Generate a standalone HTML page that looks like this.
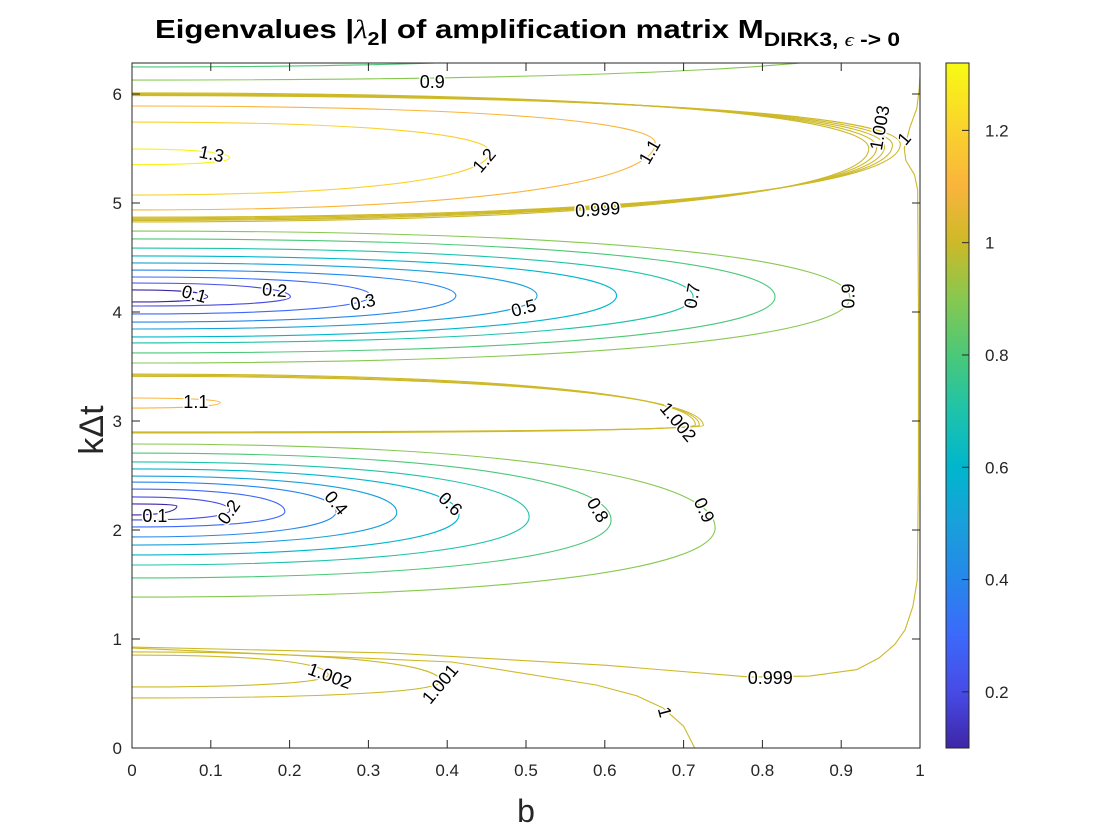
<!DOCTYPE html>
<html><head><meta charset="utf-8"><style>
body{margin:0;background:#fff;}
svg{display:block;font-family:"Liberation Sans",Arial,sans-serif;}
</style></head><body>
<svg id="chart" width="1120" height="840" viewBox="0 0 1120 840">
<defs>
<clipPath id="plotclip"><rect x="132" y="63" width="788" height="685"/></clipPath>
<linearGradient id="cbgrad" x1="0" y1="1" x2="0" y2="0">
<stop offset="0" stop-color="rgb(62,38,168)"/>
<stop offset="0.082" stop-color="rgb(71,75,230)"/>
<stop offset="0.164" stop-color="rgb(60,105,250)"/>
<stop offset="0.246" stop-color="rgb(38,135,235)"/>
<stop offset="0.328" stop-color="rgb(25,160,218)"/>
<stop offset="0.41" stop-color="rgb(0,182,205)"/>
<stop offset="0.492" stop-color="rgb(30,195,170)"/>
<stop offset="0.574" stop-color="rgb(75,200,120)"/>
<stop offset="0.656" stop-color="rgb(135,200,80)"/>
<stop offset="0.738" stop-color="rgb(205,185,40)"/>
<stop offset="0.82" stop-color="rgb(250,180,60)"/>
<stop offset="0.902" stop-color="rgb(250,210,45)"/>
<stop offset="1" stop-color="rgb(248,250,20)"/>
</linearGradient>
</defs>
<rect x="0" y="0" width="1120" height="840" fill="#fff"/>
<rect x="132" y="63" width="788" height="685" fill="#fff"/>
<g id="contours" clip-path="url(#plotclip)"></g>
<g id="labels"></g>
<rect x="132" y="63" width="788" height="685" fill="none" stroke="#262626" stroke-width="1"/>
<g id="axes"></g>
<text x="155" y="38" textLength="745" lengthAdjust="spacingAndGlyphs" font-size="26" font-weight="bold" fill="#000">Eigenvalues |<tspan font-family="'Liberation Serif',serif" font-style="italic" font-weight="normal">λ</tspan><tspan font-size="18" dy="7">2</tspan><tspan dy="-7">| of amplification matrix M</tspan><tspan font-size="19" dy="8">DIRK3, <tspan font-family="'Liberation Serif',serif" font-style="italic" font-weight="normal">ϵ</tspan> -&gt; 0</tspan></text>
<text x="526" y="822" text-anchor="middle" font-size="32" fill="#262626">b</text>
<text transform="translate(103,430) rotate(-90)" text-anchor="middle" font-size="34" fill="#262626">kΔt</text>
<rect x="946" y="63" width="23" height="685" fill="url(#cbgrad)" stroke="#262626" stroke-width="1"/>
<g id="cbticks"></g>
</svg>
<script>
// ---- data ----
const xTicks = [0,0.1,0.2,0.3,0.4,0.5,0.6,0.7,0.8,0.9,1];
const xTickLabels = ["0","0.1","0.2","0.3","0.4","0.5","0.6","0.7","0.8","0.9","1"];
const yTicks = [0,1,2,3,4,5,6];
const yTickLabels = ["0","1","2","3","4","5","6"];
const cbTicks = [0.2,0.4,0.6,0.8,1.0,1.2];
const cbTickLabels = ["0.2","0.4","0.6","0.8","1","1.2"];
const cbMin = 0.1, cbMax = 1.32;

// closed U-shaped contours (open to b=0): level, k at b=0 top/bottom, tip b, tip k
const uLevels = [0.1,0.2,0.3,0.4,0.5,0.6,0.7,0.8,0.9,
                 0.1,0.2,0.3,0.4,0.5,0.6,0.7,0.8,0.9,
                 1.3,1.2,1.1,
                 0.999,1.0,1.001,1.002,1.003,
                 1.0,1.001,1.002,1.1,
                 1.002,1.001,
                 0.8,0.9];
const uKTop = [2.239,2.303,2.376,2.440,2.495,2.560,2.624,2.706,2.789,
               4.202,4.266,4.321,4.385,4.450,4.514,4.587,4.670,4.743,
               5.495,5.743,5.890,
               6.010,6.000,5.995,5.990,5.985,
               3.431,3.420,3.410,3.211,
               0.853,0.881,
               6.60,6.70];
const uKBot = [2.138,2.092,2.028,1.936,1.862,1.771,1.679,1.560,1.385,
               4.092,4.055,3.982,3.908,3.844,3.771,3.716,3.624,3.532,
               5.352,5.073,4.936,
               4.826,4.840,4.850,4.860,4.870,
               2.890,2.895,2.900,3.119,
               0.560,0.459,
               6.248,6.128];
const uBTip = [0.057,0.124,0.194,0.259,0.336,0.415,0.504,0.608,0.740,
               0.096,0.201,0.303,0.411,0.514,0.615,0.712,0.816,0.911,
               0.124,0.454,0.664,
               0.935,0.945,0.955,0.965,0.975,
               0.715,0.720,0.725,0.112,
               0.249,0.392,
               0.60,0.95];
const uKTip = [2.22,2.18,2.17,2.17,2.16,2.14,2.12,2.09,2.02,
               4.14,4.14,4.15,4.15,4.15,4.15,4.14,4.14,4.13,
               5.413,5.468,5.550,
               5.50,5.51,5.52,5.53,5.54,
               2.963,2.960,2.957,3.170,
               0.670,0.610,
               6.45,6.45];

// open polyline contours
const lineOneB = [0,0.406,0.589,0.640,0.674,0.700,0.709,0.714];
const lineOneK = [0.917,0.789,0.578,0.480,0.367,0.200,0.073,0];
const lineEdgeB = [0,0.327,0.600,0.785,0.860,0.920,0.948,0.968,0.981,0.991,0.9965,0.998,0.998,0.997,0.993,0.982,0.980,0.987,0.996,0.999,1.001];
const lineEdgeK = [0.926,0.872,0.760,0.651,0.660,0.720,0.826,0.950,1.083,1.300,1.541,2.5,4.1,5.12,5.26,5.39,5.50,5.69,5.87,6.05,6.29];

// labels
const labelText = ["0.9","1.3","1.2","1.1","0.999","1.003","1",
  "0.1","0.2","0.3","0.5","0.7","0.9","1.1","1.002",
  "0.1","0.2","0.4","0.6","0.8","0.9","1.002","1.001","0.999","1"];
const labelB = [0.381,0.101,0.447,0.657,0.591,0.949,0.980,
  0.079,0.181,0.293,0.497,0.711,0.909,0.081,0.693,
  0.029,0.123,0.259,0.404,0.591,0.726,0.251,0.391,0.810,0.676];
const labelK = [6.11,5.45,5.39,5.47,4.94,5.69,5.59,
  4.165,4.20,4.09,4.036,4.147,4.147,3.174,2.99,
  2.128,2.165,2.248,2.239,2.183,2.183,0.661,0.587,0.642,0.330];
const labelAngle = [0,12,-50,-60,-4,-80,-50,
  15,5,-12,-15,-80,-90,0,50,
  0,-55,50,45,60,65,20,-50,0,75];

// ---- axis functions ----
const X0=132, X1=920, Y0=748, PXK=109;
function x(b){return X0+b*(X1-X0);}
function y(k){return Y0-k*PXK;}
const cmapV=[0.1,0.2,0.3,0.4,0.5,0.6,0.7,0.8,0.9,1.0,1.1,1.2,1.32];
const cmapC=[[62,38,168],[71,75,230],[60,105,250],[38,135,235],[25,160,218],[0,182,205],[30,195,170],[75,200,120],[135,200,80],[205,185,40],[250,180,60],[250,210,45],[248,250,20]];
function color(v){
  if(v<=cmapV[0])return 'rgb('+cmapC[0]+')';
  for(let i=1;i<cmapV.length;i++){ if(v<=cmapV[i]){const t=(v-cmapV[i-1])/(cmapV[i]-cmapV[i-1]);
    const c=cmapC[i-1].map((a,j)=>Math.round(a+(cmapC[i][j]-a)*t));return 'rgb('+c+')';}}
  return 'rgb('+cmapC[cmapC.length-1]+')';
}
const NS='http://www.w3.org/2000/svg';
const gC=document.getElementById('contours');
const f=0.7,g=0.55;
for(let i=0;i<uLevels.length;i++){
  const bt=uBTip[i],kt=uKTip[i],ka=uKTop[i],kb=uKBot[i];
  const d='M'+x(0)+','+y(ka)+' C'+x(f*bt)+','+y(ka)+' '+x(bt)+','+y(kt+(ka-kt)*g)+' '+x(bt)+','+y(kt)+
    ' C'+x(bt)+','+y(kt-(kt-kb)*g)+' '+x(f*bt)+','+y(kb)+' '+x(0)+','+y(kb);
  const p=document.createElementNS(NS,'path');
  p.setAttribute('d',d);p.setAttribute('fill','none');p.setAttribute('stroke',color(uLevels[i]));p.setAttribute('stroke-width','1.1');
  
  
  gC.appendChild(p);
}
function poly(bs,ks,lev,name){
  let d='';for(let i=0;i<bs.length;i++)d+=(i?'L':'M')+x(bs[i])+','+y(ks[i]);
  const p=document.createElementNS(NS,'path');
  p.setAttribute('d',d);p.setAttribute('fill','none');p.setAttribute('stroke',color(lev));p.setAttribute('stroke-width','1.1');p.setAttribute('stroke-linejoin','round');
  
  
  gC.appendChild(p);
}
poly(lineOneB,lineOneK,1.0,'contour-1-bottom');
poly(lineEdgeB,lineEdgeK,0.999,'contour-0.999-edge');

const gL=document.getElementById('labels');
for(let i=0;i<labelText.length;i++){
  const t=document.createElementNS(NS,'text');
  const px=x(labelB[i]),py=y(labelK[i]);
  t.setAttribute('transform','translate('+px+','+py+') rotate('+labelAngle[i]+')');
  t.setAttribute('text-anchor','middle');t.setAttribute('dy','6');t.setAttribute('font-size','18');
  t.setAttribute('fill','#000');t.setAttribute('stroke','#fff');t.setAttribute('stroke-width','3');t.setAttribute('paint-order','stroke');
  t.textContent=labelText[i];
  
  
  gL.appendChild(t);
}
const gA=document.getElementById('axes');
function line(x1,y1,x2,y2,par){const l=document.createElementNS(NS,'line');l.setAttribute('x1',x1);l.setAttribute('y1',y1);l.setAttribute('x2',x2);l.setAttribute('y2',y2);l.setAttribute('stroke','#262626');l.setAttribute('stroke-width','1');par.appendChild(l);return l;}
function label(tx,px,py,anchor,par,fs){const t=document.createElementNS(NS,'text');t.setAttribute('x',px);t.setAttribute('y',py);t.setAttribute('text-anchor',anchor);t.setAttribute('font-size',fs||17);t.setAttribute('fill','#262626');t.textContent=tx;par.appendChild(t);return t;}
xTicks.forEach((b,i)=>{
  const a=line(x(b),Y0,x(b),Y0-8,gA);
  
  
  const c=line(x(b),63,x(b),71,gA);
  
  
  const t=label(xTickLabels[i],x(b),776,'middle',gA);
  
  
});
yTicks.forEach((k,i)=>{
  const a=line(X0,y(k),X0+8,y(k),gA);
  
  
  const c=line(X1,y(k),X1-8,y(k),gA);
  
  
  const t=label(yTickLabels[i],122,y(k)+6,'end',gA);
  
  
});
const gB=document.getElementById('cbticks');
function cy(v){return 748-(v-cbMin)/(cbMax-cbMin)*685;}
cbTicks.forEach((v,i)=>{
  const a=line(962,cy(v),969,cy(v),gB);
  
  
  const t=label(cbTickLabels[i],985,cy(v)+6,'start',gB);
  
  
});
</script>
</body></html>
